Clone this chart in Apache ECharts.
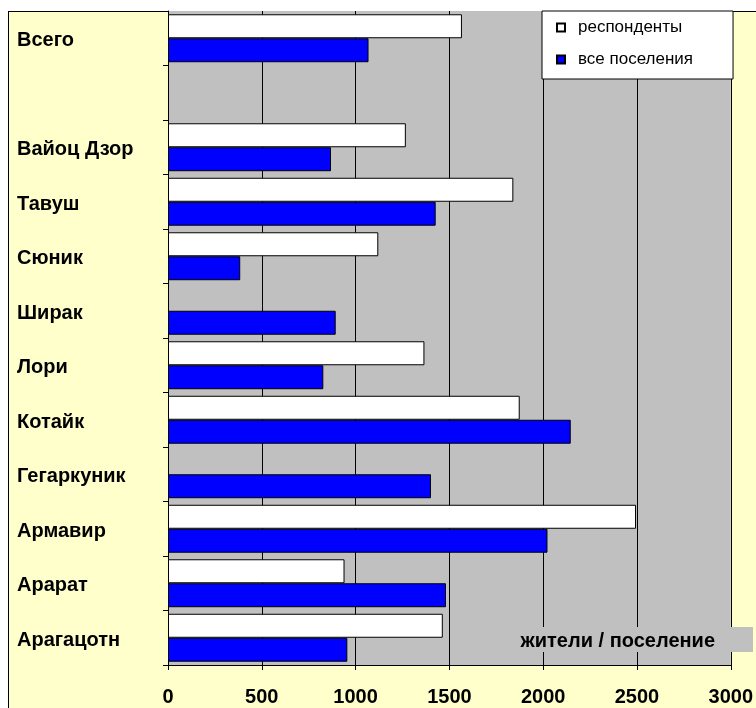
<!DOCTYPE html>
<html>
<head>
<meta charset="utf-8">
<script src="https://cdn.jsdelivr.net/npm/echarts@6/dist/echarts.min.js"></script>
<style>
  html, body { margin: 0; padding: 0; background: #fff; }
  #wrap { position: relative; width: 756px; height: 708px; overflow: hidden; background: #fff; }
  #frame { position: absolute; left: 8px; top: 11px; width: 800px; height: 800px;
           background: #FFFFCC; border-left: 1px solid #000; border-top: 1px solid #000; }
  #chart { position: absolute; left: 0; top: 0; width: 756px; height: 708px; }
</style>
</head>
<body>
<div id="wrap">
  <div id="frame"></div>
  <div id="chart"></div>
</div>
<script>
// Regions, listed bottom to top; the blank entry separates the total row
const regions = ['Арагацотн', 'Арарат', 'Армавир', 'Гегаркуник', 'Котайк', 'Лори',
                 'Ширак', 'Сюник', 'Тавуш', 'Вайоц Дзор', '', 'Всего'];
// Residents per settlement
const respondents = [1465, 941, 2495, null, 1875, 1367, null, 1121, 1841, 1268, null, 1567];
const allSettlements = [956, 1482, 2023, 1402, 2147, 828, 894, 385, 1427, 869, null, 1069];
const xTicks = { min: 0, max: 3000, interval: 500 };
const axisTitle = 'жители / поселение';
const seriesNames = ['респонденты', 'все поселения'];

const font = 'Arial, "Liberation Sans", sans-serif';
const chart = echarts.init(document.getElementById('chart'), null, { renderer: 'canvas' });

chart.setOption({
  backgroundColor: 'transparent',
  animation: false,
  title: {
    text: axisTitle,
    right: 3,
    top: 627,
    backgroundColor: '#C0C0C0',
    padding: [4, 38, 1, 8],
    textStyle: { fontFamily: font, fontWeight: 'bold', fontSize: 20, color: '#000' }
  },
  legend: {
    data: seriesNames,
    orient: 'vertical',
    left: 542,
    top: 11,
    backgroundColor: '#fff',
    borderColor: '#000',
    borderWidth: 1,
    padding: [8, 40, 11, 14],
    itemWidth: 8,
    itemHeight: 8,
    itemGap: 15,
    icon: 'rect',
    textStyle: { fontFamily: font, fontSize: 17, color: '#000', padding: [0, 0, 0, 8] }
  },
  grid: {
    left: 168, right: 24, top: 11, bottom: 43,
    show: true, backgroundColor: '#C0C0C0', borderWidth: 0
  },
  xAxis: {
    type: 'value',
    min: xTicks.min, max: xTicks.max, interval: xTicks.interval,
    axisLine: { show: true, lineStyle: { color: '#000', width: 1 } },
    axisTick: { show: true, length: 5, lineStyle: { color: '#000' } },
    axisLabel: {
      margin: 22, fontFamily: font, fontWeight: 'bold', fontSize: 20, color: '#000',
      formatter: v => String(v)
    },
    splitLine: { show: true, lineStyle: { color: '#000', width: 1 } }
  },
  yAxis: {
    type: 'category',
    data: regions,
    axisLine: { show: true, lineStyle: { color: '#000', width: 1 } },
    axisTick: { show: true, length: 5, lineStyle: { color: '#000' } },
    axisLabel: {
      align: 'left', margin: 151,
      formatter: v => (v ? '{r|' + v + '}' : ''),
      rich: {
        r: { fontFamily: font, fontWeight: 'bold', fontSize: 20, color: '#000', padding: [5, 0, 0, 0] }
      }
    },
    splitLine: { show: false }
  },
  series: [
    {
      name: seriesNames[0],
      type: 'bar',
      data: respondents,
      barGap: '0%',
      barCategoryGap: '12%',
      itemStyle: { color: '#FFFFFF', borderColor: '#000', borderWidth: 1 }
    },
    {
      name: seriesNames[1],
      type: 'bar',
      data: allSettlements,
      barGap: '0%',
      barCategoryGap: '12%',
      itemStyle: { color: '#0000FF', borderColor: '#000', borderWidth: 1 }
    }
  ]
});
</script>
</body>
</html>
